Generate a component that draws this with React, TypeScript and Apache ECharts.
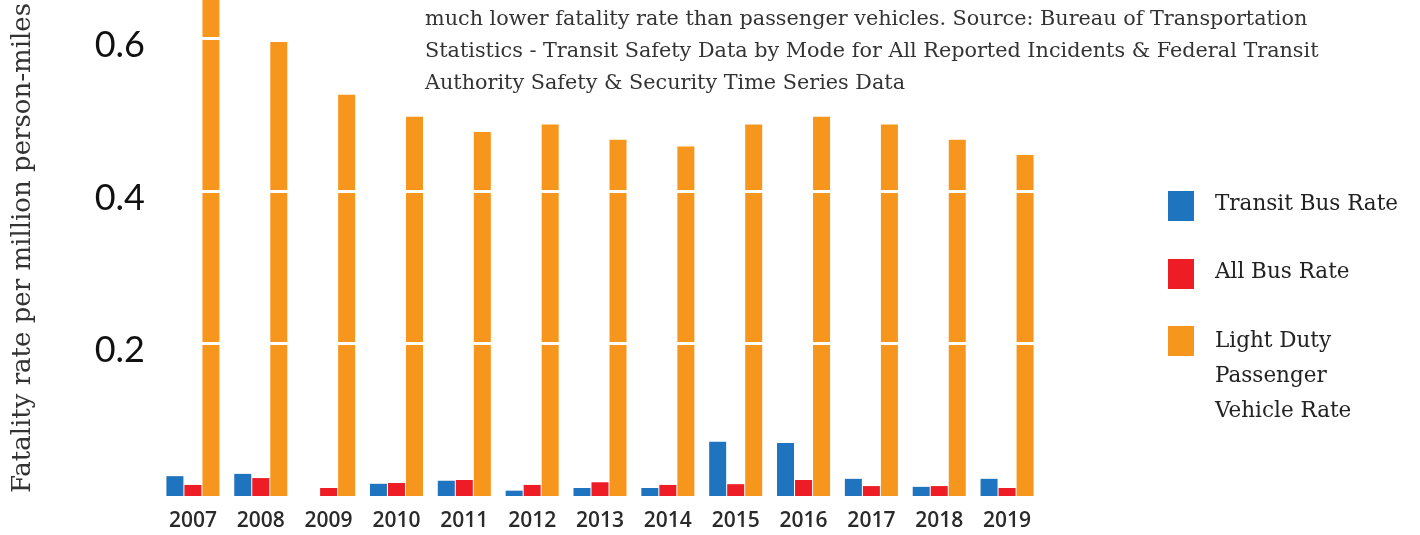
import React, { useEffect, useRef } from "react";
import * as echarts from "echarts";

const years = ["2007", "2008", "2009", "2010", "2011", "2012", "2013", "2014", "2015", "2016", "2017", "2018", "2019"];
const transitBusRate = [0.026, 0.029, 0, 0.016, 0.02, 0.007, 0.0105, 0.0105, 0.071, 0.0695, 0.0225, 0.012, 0.0225];
const allBusRate = [0.0145, 0.0235, 0.0105, 0.017, 0.021, 0.0145, 0.018, 0.0145, 0.0155, 0.021, 0.013, 0.013, 0.0105];
const lightDutyRate = [0.67, 0.595, 0.526, 0.497, 0.477, 0.487, 0.467, 0.458, 0.487, 0.497, 0.487, 0.467, 0.447];
const seriesNames = ["Transit Bus Rate", "All Bus Rate", "Light Duty\nPassenger\nVehicle Rate"];
const seriesColors = ["#1f74bf", "#ee1c25", "#f7961c"];
const yTicks = [0.2, 0.4, 0.6];
const titleLines = [
  "much lower fatality rate than passenger vehicles. Source: Bureau of Transportation",
  "Statistics - Transit Safety Data by Mode for All Reported Incidents & Federal Transit",
  "Authority Safety & Security Time Series Data",
];
const yAxisTitle = "Fatality rate per million person-miles";

const SERIF = "'DejaVu Serif', serif";

export default function App() {
  const ref = useRef<HTMLDivElement>(null);
  useEffect(() => {
    if (!ref.current) return;
    const chart = echarts.init(ref.current, undefined, { renderer: "svg" });
    const seriesData = [transitBusRate, allBusRate, lightDutyRate];
    const legendTops = [191, 259, 326];
    const legendGraphics: any[] = [];
    seriesNames.forEach((n, i) => {
      legendGraphics.push({
        type: "rect",
        left: 1168,
        top: legendTops[i],
        shape: { width: 26, height: 30 },
        style: { fill: seriesColors[i] },
      });
      legendGraphics.push({
        type: "text",
        left: 1215,
        top: legendTops[i] - (i === 2 ? 4 : 6),
        style: {
          text: n,
          font: `21.5px ${SERIF}`,
          fill: "#222",
          lineHeight: 35,
        },
      });
    });
    chart.setOption({
      animation: false,
      grid: { left: 159, right: 379, top: 0, bottom: 39, containLabel: false },
      xAxis: {
        type: "category",
        data: years,
        axisLine: { show: false },
        axisTick: { show: false },
        axisLabel: {
          fontFamily: "'Open Sans', sans-serif",
          fontWeight: 600,
          fontSize: 21,
          color: "#2a2a2a",
          margin: 12,
        },
      },
      yAxis: {
        type: "value",
        min: 0,
        max: 0.65,
        interval: 0.2,
        z: 5,
        name: yAxisTitle,
        nameLocation: "middle",
        nameGap: 125,
        nameTextStyle: { fontFamily: SERIF, fontSize: 26, color: "#333" },
        axisLine: { show: false },
        axisTick: { show: false },
        axisLabel: {
          color: "#111",
          margin: 14,
          formatter: (v: number) => (yTicks.some((t) => Math.abs(t - v) < 1e-6) ? "{t|" + v.toFixed(1) + "}" : ""),
          rich: {
            t: {
              fontFamily: "Lato, sans-serif",
              fontSize: 36,
              color: "#111",
              padding: [10, 0, 0, 0],
            },
          },
        },
        splitLine: {
          show: true,
          lineStyle: { color: ["transparent", "#fff", "#fff", "#fff", "transparent"], width: 3 },
        },
      },
      series: seriesNames.map((n, i) => ({
        type: "bar",
        name: n,
        data: seriesData[i],
        barWidth: 17,
        barGap: "6%",
        clip: true,
        itemStyle: { color: seriesColors[i] },
      })),
      graphic: [
        {
          type: "text",
          left: 425,
          top: 2,
          style: {
            text: titleLines.join("\n"),
            font: `20.75px ${SERIF}`,
            fill: "#333",
            lineHeight: 32,
          },
        },
        ...legendGraphics,
      ],
    });
    return () => chart.dispose();
  }, []);
  return <div ref={ref} style={{ position: "fixed", left: 0, top: 0, width: 1420, height: 535 }} />;
}
